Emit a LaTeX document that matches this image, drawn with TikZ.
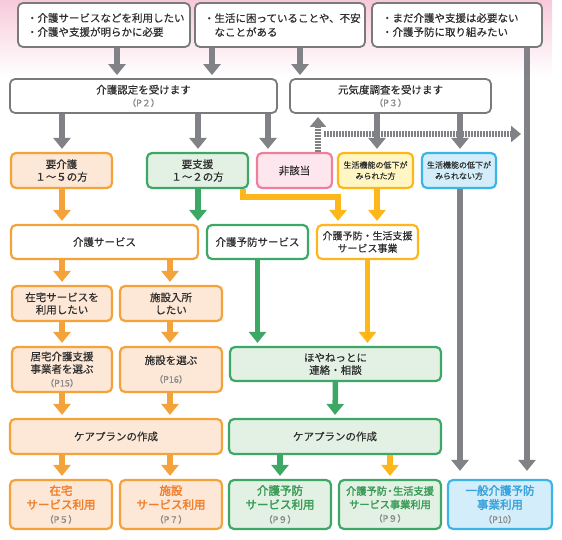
\documentclass[tikz,border=0pt]{standalone}
\usepackage{fontspec}
\setmainfont{Noto Sans CJK JP}[FakeBold=0.4, BoldFont={Noto Sans CJK JP}, BoldFeatures={FakeBold=2.2}]
\usetikzlibrary{arrows.meta}

\definecolor{txtc}{HTML}{2E2E2E}
\definecolor{pgray}{HTML}{8A8A8A}
\definecolor{boxgray}{HTML}{7A7A7A}
\definecolor{arrgray}{HTML}{808285}
\definecolor{pinktop}{HTML}{F7CADB}
\definecolor{orgc}{HTML}{F4A23A}
\definecolor{orgfill}{HTML}{FDE7D6}
\definecolor{orgtxt}{HTML}{F07F2B}
\definecolor{grnc}{HTML}{3DA865}
\definecolor{grnfill}{HTML}{E2F1E3}
\definecolor{grntxt}{HTML}{3A9B57}
\definecolor{pnkc}{HTML}{EE7F9D}
\definecolor{pnkfill}{HTML}{FDE6EE}
\definecolor{yelc}{HTML}{FDB71A}
\definecolor{yelfill}{HTML}{FFF6C4}
\definecolor{bluc}{HTML}{3BB5E6}
\definecolor{blufill}{HTML}{D3EEFA}
\definecolor{blutxt}{HTML}{3AA3DC}

\newcommand\mainsz{\fontsize{10.5}{12.5}\selectfont}
\newcommand\smallsz{\fontsize{8}{11}\selectfont}
\newcommand\ptag[1]{{\mdseries\fontsize{9}{10}\selectfont\color{pgray}#1}}

\begin{document}
\begin{tikzpicture}[x=1pt,y=-1pt,
    every node/.style={inner sep=0pt, align=center, text=txtc, font=\mainsz},
    box/.style={rounded corners=5pt, minimum height=34pt},
    graybox/.style={box, draw=boxgray, line width=1.8pt, fill=white},
    orgbox/.style={box, draw=orgc, line width=2.2pt, fill=orgfill},
    orgline/.style={box, draw=orgc, line width=2.2pt, fill=white},
    grnbox/.style={box, draw=grnc, line width=2.2pt, fill=grnfill},
    grnline/.style={box, draw=grnc, line width=2.2pt, fill=white},
    pnkbox/.style={box, draw=pnkc, line width=2.2pt, fill=pnkfill},
    yelbox/.style={box, draw=yelc, line width=2.2pt, fill=yelfill},
    yelline/.style={box, draw=yelc, line width=2.2pt, fill=white},
    blubox/.style={box, draw=bluc, line width=2.2pt, fill=blufill},
    arr/.style={line width=5.5pt, -{Triangle[width=17pt,length=11pt]}, shorten >=3pt},
    grayarr/.style={arr, draw=arrgray, line width=6pt},
    orgarr/.style={arr, draw=orgc},
    grnarr/.style={arr, draw=grnc},
    yelarr/.style={arr, draw=yelc},
    dotarr/.style={draw=arrgray, line width=6pt, dash pattern=on 1.5pt off 1.5pt,
      -{Triangle[width=16pt,length=10pt]}},
    result/.style={font=\fontsize{11.5}{14}\selectfont\bfseries, minimum height=49pt}
  ]
  \useasboundingbox (0,0) rectangle (562,540);

  % pink band behind the questions
  \shade[top color=pinktop, bottom color=white] (0,0) rectangle (552,76);

  % Questions at the top
  \node[graybox, minimum width=172pt, minimum height=44pt, text width=154pt, align=left,
    font=\fontsize{10.5}{14}\selectfont] (t1) at (104,25)
    {・介護サービスなどを利用したい\\・介護や支援が明らかに必要};
  \node[graybox, minimum width=170pt, minimum height=44pt, text width=152pt, align=left,
    font=\fontsize{10.5}{14}\selectfont] (t2) at (280,25)
    {・生活に困っていることや、不安\\\hspace*{1em}なことがある};
  \node[graybox, minimum width=170pt, minimum height=44pt, text width=150pt, align=left,
    font=\fontsize{10.5}{14}\selectfont] (t3) at (457,25)
    {・まだ介護や支援は必要ない\\・介護予防に取り組みたい};

  % Nintei and genki-do check
  \node[graybox, minimum width=267pt] (nintei) at (143.5,96)
    {介護認定を受けます\\\ptag{（P２）}};
  \node[graybox, minimum width=201pt] (genki) at (390.5,96)
    {元気度調査を受けます\\\ptag{（P３）}};

  % Results of the check
  \node[orgbox, minimum width=101pt, minimum height=35pt] (yokaigo) at (61.5,170.5) {要介護\\１～５の方};
  \node[grnbox, minimum width=101pt, minimum height=35pt] (yoshien) at (197.5,170.5) {要支援\\１～２の方};
  \node[pnkbox, minimum width=75pt, minimum height=35pt] (higaito) at (294.5,170.5) {非該当};
  \node[yelbox, minimum width=75pt, minimum height=35pt, font=\smallsz] (mirareta) at (375.5,170.5)
    {生活機能の低下が\\みられた方};
  \node[blubox, minimum width=74pt, minimum height=35pt, font=\smallsz] (mirarenai) at (459,170.5)
    {生活機能の低下が\\みられない方};

  % Services
  \node[orgline, minimum width=187pt] (kaigosv) at (104.5,242) {介護サービス};
  \node[grnline, minimum width=101pt] (yobosv) at (257.5,242) {介護予防サービス};
  \node[yelline, minimum width=101pt, font=\fontsize{10}{12.5}\selectfont] (jigyo) at (367.5,242)
    {介護予防・生活支援\\サービス事業};

  % Wishes
  \node[orgbox, minimum width=100pt, minimum height=35pt] (zaitaku) at (62,303.5) {在宅サービスを\\利用したい};
  \node[orgbox, minimum width=102pt, minimum height=35pt] (shisetsu) at (171,303.5) {施設入所\\したい};

  % Choosing
  \node[orgbox, minimum width=100pt, minimum height=45pt] (kyotaku) at (62,369.5)
    {居宅介護支援\\事業者を選ぶ\\[1pt]\ptag{（P15）}};
  \node[orgbox, minimum width=102pt, minimum height=45pt] (erabu) at (171,369.5)
    {施設を選ぶ\\[6pt]\ptag{（P16）}};
  \node[grnbox, minimum width=211pt] (hoyanet) at (335.5,364) {ほやねっとに\\連絡・相談};

  % Care plan
  \node[orgbox, minimum width=212pt, minimum height=35pt] (careo) at (116,436.5) {ケアプランの作成};
  \node[grnbox, minimum width=212pt, minimum height=35pt] (careg) at (335,436.5) {ケアプランの作成};

  % Final use of services
  \node[orgbox, result, minimum width=102pt] (r1) at (61,504.5)
    {\color{orgtxt}在宅\\\color{orgtxt}サービス利用\\\ptag{（P５）}};
  \node[orgbox, result, minimum width=102pt] (r2) at (171,504.5)
    {\color{orgtxt}施設\\\color{orgtxt}サービス利用\\\ptag{（P７）}};
  \node[grnbox, result, minimum width=102pt] (r3) at (280,504.5)
    {\color{grntxt}介護予防\\\color{grntxt}サービス利用\\\ptag{（P９）}};
  \node[grnbox, result, minimum width=102pt, font=\fontsize{10.2}{13.5}\selectfont\bfseries] (r4) at (390,504.5)
    {\color{grntxt}介護予防\kern-2pt・\kern-2pt生活支援\\\color{grntxt}サービス事業利用\\\ptag{（P９）}};
  \node[blubox, result, minimum width=104pt] (r5) at (500,504.5)
    {\color{blutxt}一般介護予防\\\color{blutxt}事業利用\\\ptag{（P10）}};

  % Columns for the connectors
  \coordinate (xa) at (117,0);
  \coordinate (xb) at (212,0);
  \coordinate (xc) at (300,0);
  \coordinate (xd) at (62,0);
  \coordinate (xe) at (198,0);
  \coordinate (xf) at (268,0);
  \coordinate (xg) at (377,0);
  \coordinate (xh) at (460,0);
  \coordinate (xi) at (527,0);
  \coordinate (xs) at (170,0);
  \coordinate (ys) at (243,0);
  \coordinate (ybend) at (338,197);
  \coordinate (uptip) at (318,117);
  \coordinate (dotl) at (324,134);
  \coordinate (dotr) at (521,134);

  % Gray arrows
  \draw[grayarr] (t1.south -| xa) -- (nintei.north -| xa);
  \draw[grayarr] (t2.south -| xb) -- (nintei.north -| xb);
  \draw[grayarr] (t2.south -| xc) -- (genki.north -| xc);
  \draw[grayarr] (nintei.south -| xd) -- (yokaigo.north -| xd);
  \draw[grayarr] (nintei.south -| xe) -- (yoshien.north -| xe);
  \draw[grayarr] (nintei.south -| xf) -- (higaito.north -| xf);
  \draw[grayarr] (genki.south -| xg) -- (mirareta.north -| xg);
  \draw[grayarr] (genki.south -| xh) -- (mirarenai.north -| xh);
  \draw[grayarr, shorten >=8pt] (mirarenai.south -| xh) -- (r5.north -| xh);
  \draw[grayarr, shorten >=8pt] (t3.south -| xi) -- (r5.north -| xi);

  % Dotted return arrows
  \draw[dotarr] (higaito.north -| uptip) -- (uptip);
  \draw[dotarr] (dotl) -- (dotr);

  % Orange arrows
  \draw[orgarr] (yokaigo.south -| xd) -- (kaigosv.north -| xd);
  \draw[orgarr] (kaigosv.south -| xd) -- (zaitaku.north -| xd);
  \draw[orgarr] (kaigosv.south -| xs) -- (shisetsu.north -| xs);
  \draw[orgarr] (zaitaku.south -| xd) -- (kyotaku.north -| xd);
  \draw[orgarr] (shisetsu.south -| xs) -- (erabu.north -| xs);
  \draw[orgarr] (kyotaku.south -| xd) -- (careo.north -| xd);
  \draw[orgarr] (erabu.south -| xs) -- (careo.north -| xs);
  \draw[orgarr] (careo.south -| xd) -- (r1.north -| xd);
  \draw[orgarr] (careo.south -| xs) -- (r2.north -| xs);

  % Green arrows
  \draw[grnarr] (yoshien.south -| xe) -- (yobosv.north -| xe);
  \draw[grnarr] (yobosv) ++(0,17) -- (hoyanet.north -| yobosv);
  \draw[grnarr] (hoyanet) ++(0,17) -- (careg.north);
  \draw[grnarr] (careg.south -| r3) -- (r3.north);

  % Yellow arrows
  \draw[yelarr] (yoshien.south -| ys) |- (ybend) -- (jigyo.north -| ybend);
  \draw[yelarr] (mirareta.south -| xg) -- (jigyo.north -| xg);
  \draw[yelarr] (jigyo.south) -- (hoyanet.north -| jigyo);
  \draw[yelarr] (careg.south -| r4) -- (r4.north);
\end{tikzpicture}
\end{document}
